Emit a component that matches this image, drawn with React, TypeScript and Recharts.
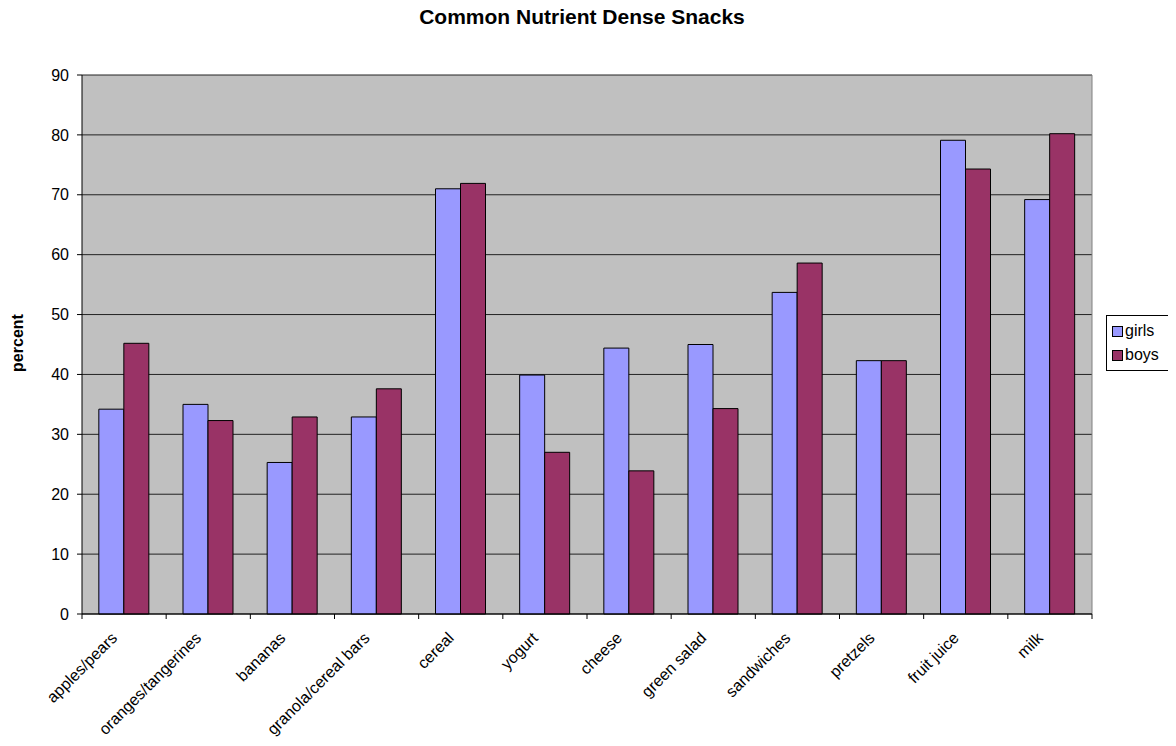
import React from "react";
import {
  Bar,
  BarChart,
  CartesianGrid,
  XAxis,
  YAxis,
} from "recharts";

// Snack categories and the share (percent) of girls and boys who eat them.
const SNACKS = [
  "apples/pears",
  "oranges/tangerines",
  "bananas",
  "granola/cereal bars",
  "cereal",
  "yogurt",
  "cheese",
  "green salad",
  "sandwiches",
  "pretzels",
  "fruit juice",
  "milk",
];
const GIRLS = [34.2, 35.0, 25.3, 32.9, 71.0, 39.9, 44.4, 45.0, 53.7, 42.3, 79.1, 69.2];
const BOYS = [45.2, 32.3, 32.9, 37.6, 71.9, 27.0, 23.9, 34.3, 58.6, 42.3, 74.3, 80.2];
const Y_TICKS = [0, 10, 20, 30, 40, 50, 60, 70, 80, 90];

const GIRLS_FILL = "#9999FF";
const BOYS_FILL = "#993366";
const FONT = '"Liberation Sans", Arial, sans-serif';

const WIDTH = 1160;
const HEIGHT = 730;
const MARGIN = { top: 67, right: 76, bottom: 14, left: 14 };
const Y_AXIS_W = 60;
const PLOT_W = WIDTH - MARGIN.left - MARGIN.right - Y_AXIS_W;
const BAND = PLOT_W / SNACKS.length;

const rows = SNACKS.map((name, i) => ({ name, girls: GIRLS[i], boys: BOYS[i] }));

// Excel-style category ticks: marks sit on the band edges, labels are slanted.
function SlantTick(props: any) {
  const { x, y, payload, index } = props;
  const half = BAND / 2;
  const last = index === SNACKS.length - 1;
  const tx = x - 6;
  const ty = y + 25;
  return (
    <g>
      <line x1={x - half} y1={y} x2={x - half} y2={y + 5} stroke="#000" />
      {last && <line x1={x + half} y1={y} x2={x + half} y2={y + 5} stroke="#000" />}
      <text
        x={tx}
        y={ty}
        textAnchor="end"
        fontSize={16}
        fontFamily={FONT}
        fill="#000"
        transform={`rotate(-45 ${tx} ${ty})`}
      >
        {payload.value}
      </text>
    </g>
  );
}

function LegendBox() {
  const items = [
    { label: "girls", fill: GIRLS_FILL },
    { label: "boys", fill: BOYS_FILL },
  ];
  return (
    <div
      style={{
        position: "absolute",
        left: 1098,
        top: 307,
        border: "1px solid #000",
        background: "#fff",
        width: 64,
        padding: "3px 0 3px 5px",
        boxSizing: "border-box",
        fontFamily: FONT,
        fontSize: 16,
      }}
    >
      {items.map((it) => (
        <div key={it.label} style={{ display: "flex", alignItems: "center", height: 24 }}>
          <span
            style={{
              width: 9,
              height: 9,
              background: it.fill,
              border: "1px solid #000",
              marginRight: 2,
              display: "inline-block",
            }}
          />
          <span>{it.label}</span>
        </div>
      ))}
    </div>
  );
}

export default function App() {
  return (
    <div style={{ position: "relative", width: WIDTH, height: HEIGHT, fontFamily: FONT }}>
      <div
        style={{
          position: "absolute",
          top: -3,
          left: -6,
          width: WIDTH,
          textAlign: "center",
          fontWeight: "bold",
          fontSize: 21,
        }}
      >
        Common Nutrient Dense Snacks
      </div>
      <div
        style={{
          position: "absolute",
          left: 10,
          top: 335,
          transform: "translate(-50%, -50%) rotate(-90deg)",
          fontWeight: "bold",
          fontSize: 16,
        }}
      >
        percent
      </div>
      <BarChart
        width={WIDTH}
        height={HEIGHT}
        data={rows}
        margin={MARGIN}
        barCategoryGap="20%"
        barGap={0}
      >
        <CartesianGrid vertical={false} fill="#C0C0C0" stroke="#222" />
        <CartesianGrid
          horizontal={false}
          stroke="#808080"
          verticalCoordinatesGenerator={({ offset }: any) => [offset.left + offset.width]}
        />
        <XAxis
          dataKey="name"
          interval={0}
          height={110}
          tickLine={false}
          tickSize={0}
          tickMargin={0}
          axisLine={{ stroke: "#000" }}
          tick={<SlantTick />}
        />
        <YAxis
          width={Y_AXIS_W}
          domain={[0, 90]}
          ticks={Y_TICKS}
          interval={0}
          tickSize={5}
          tickMargin={8}
          axisLine={{ stroke: "#000" }}
          tickLine={{ stroke: "#000" }}
          tick={{ fontSize: 16, fill: "#000", fontFamily: FONT }}
        />
        <Bar dataKey="girls" fill={GIRLS_FILL} stroke="#000" strokeWidth={1} isAnimationActive={false} />
        <Bar dataKey="boys" fill={BOYS_FILL} stroke="#000" strokeWidth={1} isAnimationActive={false} />
      </BarChart>
      <LegendBox />
    </div>
  );
}
